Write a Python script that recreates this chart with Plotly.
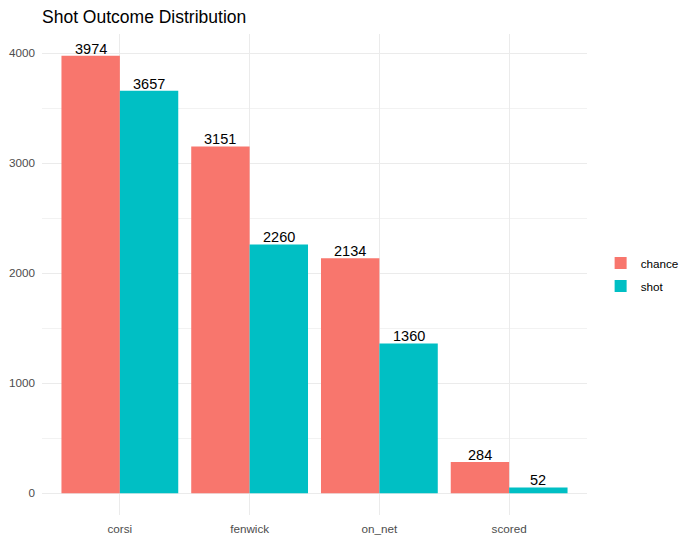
import plotly.graph_objects as go

# values
outcomes = ["corsi", "fenwick", "on_net", "scored"]
chance = [3974, 3151, 2134, 284]
shot = [3657, 2260, 1360, 52]
series_names = ["chance", "shot"]
colors = ["#F8766D", "#00BFC4"]

FONT = "Liberation Sans, Arial, sans-serif"
DODGE = 0.225  # half of one bar's width within the 0.9 group
W, H = 687, 534  # page body adds an 8px margin

fig = go.Figure()
for i, (name, vals, col) in enumerate(zip(series_names, [chance, shot], colors)):
    fig.add_trace(go.Bar(
        x=outcomes, y=vals, name=name, legendgroup=name,
        marker=dict(color=col, line=dict(width=0)),
    ))
    off = -DODGE if i == 0 else DODGE
    for j, v in enumerate(vals):
        fig.add_annotation(
            x=j + off, y=v, xref="x", yref="y", text=str(v),
            showarrow=False, yanchor="bottom", yshift=-3,
            font=dict(family=FONT, size=14.5, color="black"),
        )

fig.update_layout(
    width=W, height=H,
    margin=dict(l=34, r=108, t=26, b=27, autoexpand=False),
    barmode="group", bargap=0.1, bargroupgap=0,
    plot_bgcolor="white", paper_bgcolor="white",
    font=dict(family=FONT, size=11.7, color="#4D4D4D"),
    title=dict(text="Shot Outcome Distribution", x=34 / W, xanchor="left",
               y=1 - 8.5 / H, yanchor="middle",
               font=dict(family=FONT, size=17.5, color="black")),
    legend=dict(x=1.025, xanchor="left", y=0.5, yanchor="middle",
                font=dict(family=FONT, size=11.7, color="black"),
                traceorder="grouped", tracegroupgap=4,
                itemwidth=30, bgcolor="rgba(0,0,0,0)"),
    showlegend=True,
)
fig.update_xaxes(
    range=[-0.6, 3.6], showgrid=True, gridcolor="#EBEBEB", gridwidth=1,
    zeroline=False, showline=False, ticks="", ticklabelstandoff=5,
    automargin=False,
    tickfont=dict(family=FONT, size=11.7, color="#4D4D4D"),
)
fig.update_yaxes(
    range=[-198.7, 4172.7], dtick=1000, tick0=0, showgrid=True,
    gridcolor="#EBEBEB", gridwidth=1, zeroline=False, showline=False,
    ticks="", ticklabelstandoff=6, automargin=False,
    tickfont=dict(family=FONT, size=11.7, color="#4D4D4D"),
    minor=dict(dtick=500, tick0=0, showgrid=True, gridcolor="#F2F2F2", gridwidth=0.6),
)

fig.write_html("out.html")
